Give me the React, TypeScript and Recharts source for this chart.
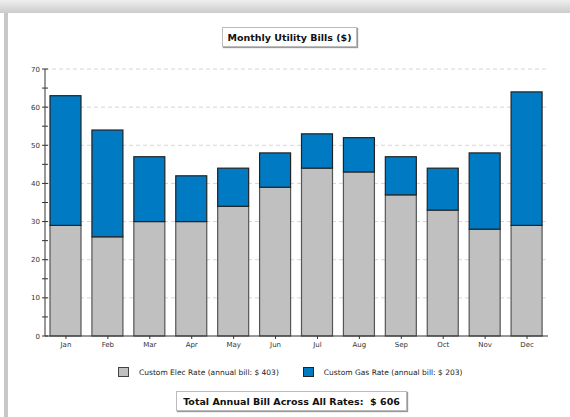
import React from "react";
import { BarChart, Bar, XAxis, YAxis, CartesianGrid } from "recharts";

const MONTHS = ["Jan", "Feb", "Mar", "Apr", "May", "Jun", "Jul", "Aug", "Sep", "Oct", "Nov", "Dec"];
const ELEC = [29, 26, 30, 30, 34, 39, 44, 43, 37, 33, 28, 29];
const GAS = [34, 28, 17, 12, 10, 9, 9, 9, 10, 11, 20, 35];
const Y_TICKS = [0, 5, 10, 15, 20, 25, 30, 35, 40, 45, 50, 55, 60, 65, 70];
const GRID = [10, 20, 30, 40, 50, 60, 70];
const ELEC_TOTAL = 403;
const GAS_TOTAL = 203;
const GRAND_TOTAL = 606;

const FONT = "Tahoma, 'DejaVu Sans', sans-serif";

const data = MONTHS.map((m, i) => ({ month: m, elec: ELEC[i], gas: GAS[i] }));

function YTick(props: any) {
  const { x, y, payload } = props;
  const major = payload.value % 10 === 0;
  return (
    <g>
      <line x1={x - 3} x2={x + 3} y1={y} y2={y} stroke="#333" />
      {major && (
        <text x={x - 5} y={y + 2.5} textAnchor="end" fontSize={7} fill="#333" fontFamily={FONT}>
          {payload.value}
        </text>
      )}
    </g>
  );
}

function BarShape(props: any) {
  const { x, y, width, height, fill, edge } = props;
  if (!height) return null;
  return (
    <rect x={x} y={y} width={width} height={height} fill={fill} stroke={edge} strokeWidth={1.2} />
  );
}

export default function App() {
  return (
    <div style={{ position: "absolute", left: 0, top: 0, width: 570, height: 417, background: "#fff", fontFamily: FONT }}>
      <div style={{ position: "absolute", left: 0, top: 0, width: 570, height: 13, background: "linear-gradient(#efefef, #cbcbcb)" }} />
      <div style={{ position: "absolute", left: 4, top: 13, width: 4, height: 404, background: "#c8c8c8" }} />
      <BarChart
        width={570}
        height={417}
        data={data}
        margin={{ top: 69, right: 22, left: 0, bottom: 61 }}
        style={{ position: "absolute", left: 0, top: 0 }}
      >
        <CartesianGrid vertical={false} horizontalValues={GRID} stroke="#d6d6d6" strokeDasharray="4 3" />
        <XAxis
          dataKey="month"
          height={20}
          axisLine={{ stroke: "#333" }}
          tickLine={{ stroke: "#333" }}
          tickSize={3}
          tickMargin={3}
          tick={{ fontSize: 7, fill: "#333", fontFamily: FONT }}
        />
        <YAxis
          width={45}
          domain={[0, 70]}
          ticks={Y_TICKS}
          interval={0}
          tickLine={false}
          tickSize={0}
          tickMargin={0}
          axisLine={{ stroke: "#333" }}
          tick={<YTick />}
        />
        <Bar dataKey="elec" stackId="a" fill="#c0c0c0" barSize={31} isAnimationActive={false} shape={(p: any) => <BarShape {...p} edge="#555" />} />
        <Bar dataKey="gas" stackId="a" fill="#007ac2" barSize={31} isAnimationActive={false} shape={(p: any) => <BarShape {...p} edge="#222" />} />
      </BarChart>
      <div
        style={{
          position: "absolute", left: 222, top: 27, width: 133, height: 18, border: "1px solid #bbb",
          boxShadow: "1px 1px 1px #999", display: "flex", alignItems: "center", justifyContent: "center",
          fontSize: 9.5, fontWeight: "bold", color: "#111", background: "#fff",
        }}
      >
        Monthly Utility Bills ($)
      </div>
      <div style={{ position: "absolute", left: 118, top: 367, fontSize: 7.5, color: "#222", display: "flex", alignItems: "center" }}>
        <span style={{ width: 9, height: 8, background: "#c0c0c0", border: "1px solid #444", display: "inline-block", marginRight: 10 }} />
        <span>Custom Elec Rate (annual bill: $ {ELEC_TOTAL})</span>
        <span style={{ width: 9, height: 8, background: "#007ac2", border: "1px solid #222", display: "inline-block", marginLeft: 24, marginRight: 10 }} />
        <span>Custom Gas Rate (annual bill: $ {GAS_TOTAL})</span>
      </div>
      <div
        style={{
          position: "absolute", left: 176, top: 391, width: 229, height: 18, border: "1px solid #bbb",
          boxShadow: "1px 1px 1px #999", display: "flex", alignItems: "center", justifyContent: "center",
          fontSize: 9.5, fontWeight: "bold", color: "#111", background: "#fff", whiteSpace: "pre",
        }}
      >
        {`Total Annual Bill Across All Rates:  $ ${GRAND_TOTAL}`}
      </div>
    </div>
  );
}
